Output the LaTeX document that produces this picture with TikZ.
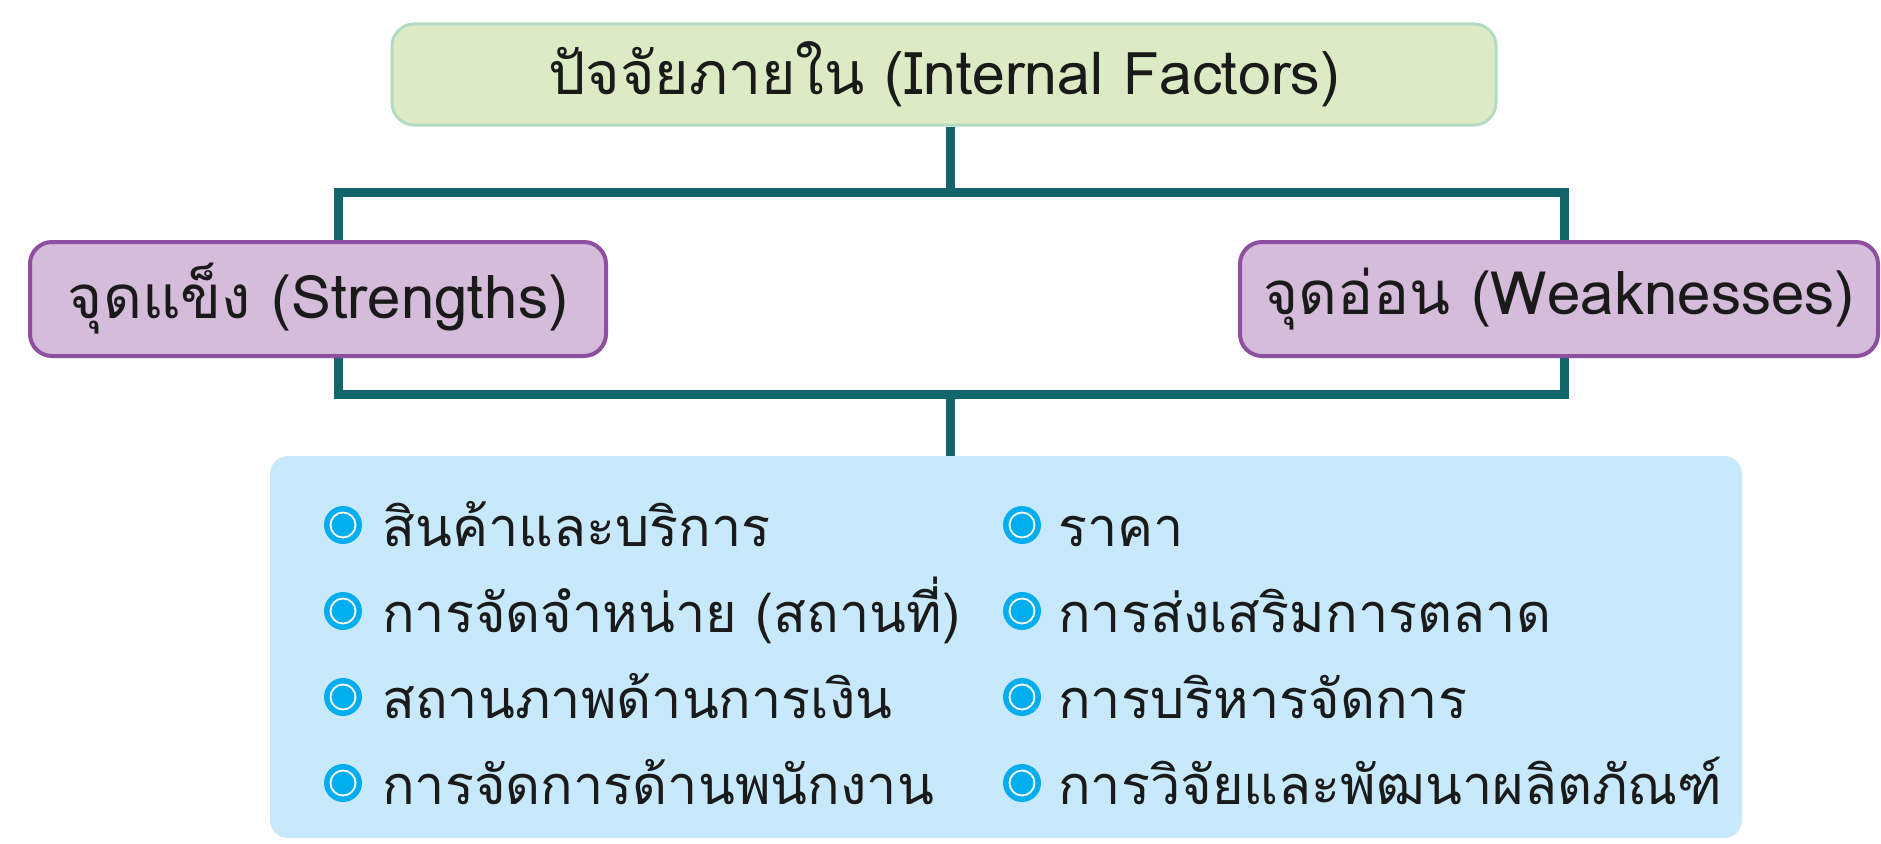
\documentclass[tikz,border=0pt]{standalone}
\usepackage{fontspec}
\newfontfamily\thai[Script=Thai]{Loma}
\usetikzlibrary{backgrounds}
\definecolor{greenfill}{HTML}{DDEBC4}
\definecolor{greenline}{HTML}{B3DBC4}
\definecolor{purplefill}{HTML}{D5BCDA}
\definecolor{purpleline}{HTML}{8E4FA0}
\definecolor{tealline}{HTML}{12656B}
\definecolor{bluefill}{HTML}{C8E9FB}
\definecolor{dotblue}{HTML}{00AEEF}
\definecolor{txt}{HTML}{1A1A1A}
\tikzset{
  topbox/.style={draw=greenline, line width=3, fill=greenfill, rounded corners=22, text=txt,
    font=\thai\fontsize{59}{66}\selectfont, inner sep=0},
  sidebox/.style={draw=purpleline, line width=4, fill=purplefill, rounded corners=22, text=txt,
    font=\thai\fontsize{60}{68}\selectfont, inner sep=0},
  listbox/.style={fill=bluefill, rounded corners=18, inner sep=0},
  conn/.style={draw=tealline, line width=9, line join=miter},
  bulletdot/.style={circle, fill=dotblue, minimum size=38, inner sep=0},
  ring/.style={draw=white, line width=1.8},
  itemtext/.style={anchor=base west, text=txt, font=\thai\fontsize{54}{62}\selectfont, inner sep=0}
}
\begin{document}
\begin{tikzpicture}[x=1pt,y=-1pt]
\useasboundingbox (0,0) rectangle (1881,843);

\node[topbox, minimum width=1104, minimum height=101] (top) at (944,74.5) {ปัจจัยภายใน (Internal Factors)};
\node[sidebox, minimum width=576, minimum height=114] (str) at (318,299) {จุดแข็ง (Strengths)};
\node[sidebox, minimum width=638, minimum height=114] (weak) at (1559,299) {จุดอ่อน (Weaknesses)};
\node[listbox, minimum width=1472, minimum height=382] (list) at (1006,647) {};

\coordinate (tl) at (338,192);
\coordinate (tr) at (1564,192);
\coordinate (bl) at (338,394);
\coordinate (br) at (1564,394);
\coordinate (tm) at (950,192);
\coordinate (bm) at (950,394);

\begin{scope}[on background layer]
\fill[white] (0,0) rectangle (1881,843);
\draw[conn] (tm |- top.south) -- (tm);
\draw[conn] (tl) -- (tr) -- (br) -- (bl) -- cycle;
\draw[conn] (bm) -- (bm |- list.north);
\end{scope}

% left column
\foreach \i/\y/\t in {1/525/สินค้าและบริการ, 2/611/การจัดจำหน่าย (สถานที่), 3/697/สถานภาพด้านการเงิน, 4/783/การจัดการด้านพนักงาน}{
  \node[bulletdot] (lb\i) at (343,\y) {};
  \draw[ring] (lb\i) circle (12.5);
  \node[itemtext] (lt\i) at (382,\y+21) {\t};
}
% right column
\foreach \i/\y/\t in {1/525/ราคา, 2/611/การส่งเสริมการตลาด, 3/697/การบริหารจัดการ, 4/783/การวิจัยและพัฒนาผลิตภัณฑ์}{
  \node[bulletdot] (rb\i) at (1022,\y) {};
  \draw[ring] (rb\i) circle (12.5);
  \node[itemtext] (rt\i) at (1058,\y+21) {\t};
}
\end{tikzpicture}
\end{document}
